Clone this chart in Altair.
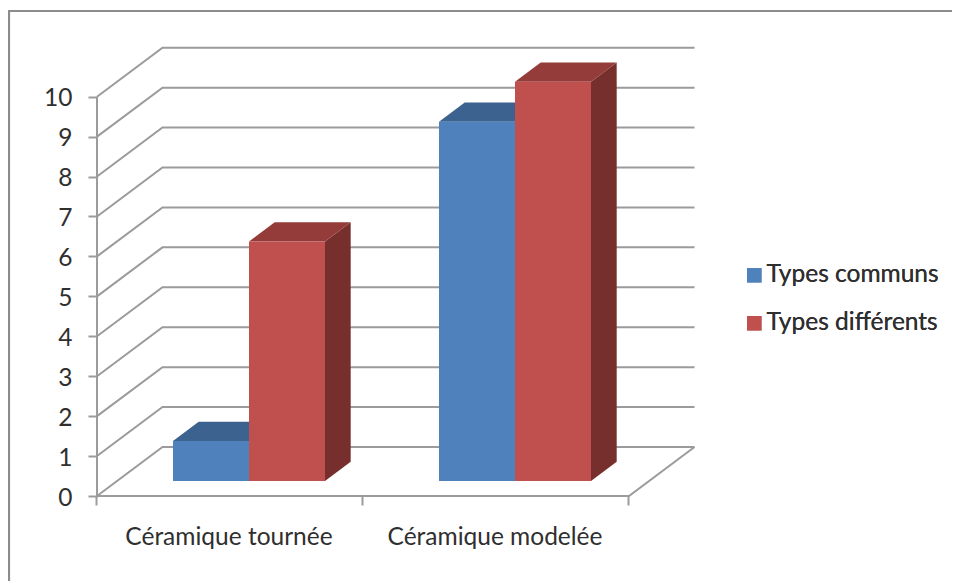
import altair as alt
import pandas as pd

categories = ["Céramique tournée", "Céramique modelée"]
series_names = ["Types communs", "Types différents"]
types_communs = [1, 9]
types_differents = [6, 10]
y_ticks = list(range(0, 11))
x_ticks = [0, 1, 2]

FONT = "Lato"
FS = 24.5
TXT = "#2f2f2f"
GRID = "#9b9b9b"
PX_X = 266.0      # pixels per category
PX_Y = 39.93      # pixels per value unit
PW, PH = 598, 448
WALL_DX, WALL_DY = 65.5 / PX_X, 49 / PX_Y
BAR_W = 76 / PX_X
BAR_X0 = 76 / PX_X
BAR_DX, BAR_DY = 25.7 / PX_X, 19.2 / PX_Y
BASE = 15 / PX_Y

x_scale = alt.Scale(domain=[0, PW / PX_X], range=[0, PW], nice=False, zero=False)
y_scale = alt.Scale(domain=[0, PH / PX_Y], range=[PH, 0], nice=False, zero=False)

x_axis = alt.Axis(values=x_ticks, title=None, labels=False, domain=False, grid=False,
                  ticks=True, tickColor=GRID, tickWidth=2, tickSize=9, tickOffset=-1)
y_axis = alt.Axis(values=y_ticks, title=None, domain=False, grid=False, format="d",
                  tickColor=GRID, tickWidth=2, tickSize=9, labelPadding=16, labelOffset=2,
                  labelFont=FONT, labelFontSize=FS, labelColor=TXT)

front, top, side = [], [], []
for s, name, vals in ((0, series_names[0], types_communs), (1, series_names[1], types_differents)):
    for c, v in enumerate(vals):
        x0 = c + BAR_X0 + s * BAR_W
        x1 = x0 + BAR_W
        yb, yt = BASE, BASE + v
        key = f"{s}-{c}"
        front.append(dict(k=key, series=name, s=s, x=x0, x2=x1, y=yb, y2=yt))
        for xx, lo, hi in ((x0, yt, yt), (x0 + BAR_DX, yt, yt + BAR_DY),
                           (x1, yt, yt + BAR_DY), (x1 + BAR_DX, yt + BAR_DY, yt + BAR_DY)):
            top.append(dict(k=key, series=name, s=s, x=xx, y=lo, y2=hi))
        for xx, lo, hi in ((x1, yb, yt), (x1 + BAR_DX, yb + BAR_DY, yt + BAR_DY)):
            side.append(dict(k=key, series=name, s=s, x=xx, y=lo, y2=hi))
front, top, side = map(pd.DataFrame, (front, top, side))

grid = pd.DataFrame(
    [dict(v=v, i=i, x=x, y=v + d) for v in y_ticks
     for i, (x, d) in enumerate(((0, 0), (WALL_DX, WALL_DY), (2 + WALL_DX, WALL_DY)))]
)
floor = pd.DataFrame(
    [dict(i=i, x=x, y=y) for i, (x, y) in enumerate(((0, 0), (2, 0), (2 + WALL_DX, WALL_DY)))]
)
yaxis_line = pd.DataFrame({"x": [0], "y": [0], "y2": [10]})
labels = pd.DataFrame({"x": [0.5, 1.5], "t": categories})

X = lambda: alt.X("x:Q", scale=x_scale, axis=x_axis)
Y = lambda: alt.Y("y:Q", scale=y_scale, axis=y_axis)


def face(df, colors):
    return alt.Chart(df).mark_area(orient="vertical", opacity=1, strokeWidth=0).encode(
        x=X(), y=Y(), y2="y2:Q", detail="k:N",
        color=alt.Color("series:N", scale=alt.Scale(domain=series_names, range=colors), legend=None),
    )


def front_bars(df):
    return alt.Chart(df).mark_rect().encode(
        x=X(), x2="x2:Q", y=Y(), y2="y2:Q",
        color=alt.Color(
            "series:N",
            scale=alt.Scale(domain=series_names, range=["#4f81bd", "#c0504d"]),
            legend=alt.Legend(
                title=None, orient="none", legendX=645, legendY=215,
                symbolType="square", symbolSize=210, symbolStrokeWidth=0,
                labelFont=FONT, labelFontSize=24.5, labelColor=TXT, labelOffset=0,
                rowPadding=23, labelLimit=260,
            ),
        ),
    )


grid_l = alt.Chart(grid).mark_line(color=GRID, strokeWidth=2).encode(
    x=X(), y=Y(), detail="v:N", order="i:Q"
)
floor_l = alt.Chart(floor).mark_line(color=GRID, strokeWidth=2).encode(
    x=X(), y=Y(), order="i:Q"
)
axis_l = alt.Chart(yaxis_line).mark_rule(color=GRID, strokeWidth=2).encode(
    x=X(), y=Y(), y2="y2:Q"
)
text_l = alt.Chart(labels).mark_text(font=FONT, fontSize=FS, color=TXT, baseline="middle", dx=-1).encode(
    x=X(), y=alt.value(490), text="t:N"
)
frame_top = alt.Chart().mark_rule(color="#8c8c8c", strokeWidth=2.2).encode(
    x=alt.value(-88), x2=alt.value(855), y=alt.value(-37)
)
frame_left = alt.Chart().mark_rule(color="#8c8c8c", strokeWidth=2.2).encode(
    x=alt.value(-88), y=alt.value(-38), y2=alt.value(533)
)

TOPC = ["#3c6290", "#943c3a"]
SIDEC = ["#2f4d71", "#772f2d"]

bars = []
for s in (0, 1):
    bars += [
        face(side[side.s == s], SIDEC),
        face(top[top.s == s], TOPC),
        front_bars(front[front.s == s]),
    ]

chart = (
    alt.layer(grid_l, floor_l, axis_l, *bars, text_l, frame_top, frame_left)
    .resolve_scale(color="independent")
    .properties(
        width=PW, height=PH,
        padding={"left": 89, "top": 40, "right": 257, "bottom": 85},
        autosize=alt.AutoSizeParams(type="none"),
        background="white",
    )
    .configure_view(stroke=None)
)

chart.save("out.html", embed_options={"renderer": "svg", "actions": False})
